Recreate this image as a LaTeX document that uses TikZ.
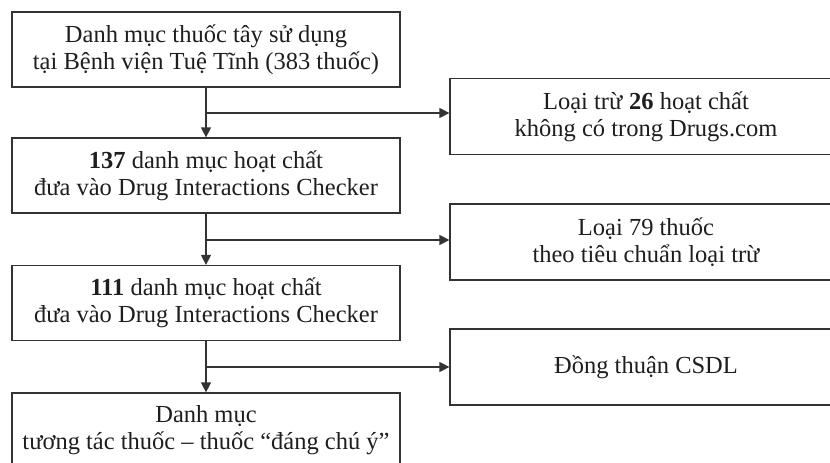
\documentclass[tikz,border=0pt]{standalone}
\usepackage{fontspec}
\setmainfont{Liberation Serif}
\usetikzlibrary{arrows.meta}
\definecolor{lineclr}{HTML}{333333}
\definecolor{txtclr}{HTML}{1E1E1E}

\begin{document}
\begin{tikzpicture}[
  x=1pt, y=-1pt,
  box/.style={draw=lineclr, line width=1.2pt, minimum width=388pt, minimum height=75pt,
    align=center, inner sep=0pt, text=txtclr, font=\fontsize{24.5}{27}\selectfont},
  rbox/.style={box, minimum width=392pt, minimum height=76pt},
  arr/.style={-{Triangle[length=10pt,width=10pt]}, draw=lineclr, line width=1.2pt}
]
  \useasboundingbox (0,0) rectangle (830,463);
  \node[box] (list) at (206,49.5) {Danh mục thuốc tây sử dụng\\tại Bệnh viện Tuệ Tĩnh (383 thuốc)};
  \node[box] (act1) at (206,175.5) {\textbf{137} danh mục hoạt chất\\đưa vào Drug Interactions Checker};
  \node[box] (act2) at (206,303) {\textbf{111} danh mục hoạt chất\\đưa vào Drug Interactions Checker};
  \node[box] (final) at (206,430.5) {Danh mục\\tương tác thuốc – thuốc “đáng chú ý”};

  \node[rbox] (excl1) at (646,116.5) {Loại trừ \textbf{26} hoạt chất\\không có trong Drugs.com};
  \node[rbox] (excl2) at (646,242) {Loại 79 thuốc\\theo tiêu chuẩn loại trừ};
  \node[rbox] (agree) at (646,367) {Đồng thuận CSDL};

  % branch points
  \coordinate (j1) at (list.south |- 0,113);
  \coordinate (j2) at (act1.south |- 0,240);
  \coordinate (j3) at (act2.south |- 0,367);

  \draw[arr] (list) -- (act1);
  \draw[arr] (act1) -- (act2);
  \draw[arr] (act2) -- (final);
  \draw[arr] (j1) -- (j1 -| excl1.west);
  \draw[arr] (j2) -- (j2 -| excl2.west);
  \draw[arr] (j3) -- (j3 -| agree.west);
\end{tikzpicture}
\end{document}
